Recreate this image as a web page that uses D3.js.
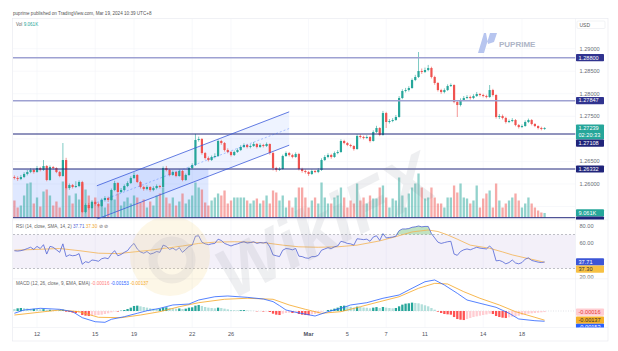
<!DOCTYPE html>
<html lang="en">
<head>
<meta charset="UTF-8">
<title>GBPUSD 4H</title>
<script src="https://d3js.org/d3.v7.min.js"></script>
<style>
  body { margin: 0; background: #fff; }
  svg { display: block; font-family: "Liberation Sans", Arial, sans-serif; }
</style>
</head>
<body>
<svg width="618" height="351"></svg>
<script>
// ---- data (4H candles, Feb 9 -> Mar 19) ----
var opens = [1.26154,1.26132,1.26110,1.26154,1.26221,1.26265,1.26310,1.26265,1.26354,1.26310,
 1.26398,1.26088,1.26376,1.26354,1.26265,1.26177,1.26531,1.25910,1.25977,1.25933,
 1.25955,1.26044,1.25378,1.25534,1.25467,1.25600,1.25556,1.25511,1.25644,1.25689,
 1.25644,1.25866,1.26021,1.25822,1.25866,1.25955,1.26021,1.26132,1.26199,1.26044,
 1.25933,1.25888,1.25933,1.25866,1.25910,1.25955,1.25933,1.26354,1.26310,1.26199,
 1.26265,1.26177,1.26288,1.26088,1.26199,1.26354,1.26420,1.26975,1.26997,1.26686,
 1.26576,1.26531,1.26598,1.26620,1.26953,1.26908,1.26753,1.26709,1.26642,1.26709,
 1.26753,1.26820,1.26864,1.26820,1.26842,1.26886,1.26820,1.26864,1.26842,1.26886,
 1.26686,1.26354,1.26310,1.26332,1.26620,1.26686,1.26642,1.26598,1.26664,1.26332,
 1.26288,1.26265,1.26221,1.26288,1.26265,1.26310,1.26531,1.26598,1.26642,1.26598,
 1.26686,1.26709,1.26953,1.26908,1.26864,1.26842,1.26775,1.27064,1.27042,1.27019,
 1.27042,1.26953,1.27152,1.27241,1.27086,1.27573,1.27374,1.27396,1.27418,1.27485,
 1.27906,1.28061,1.28083,1.28128,1.28305,1.28372,1.28505,1.28483,1.28527,1.28571,
 1.28372,1.28239,1.28083,1.28039,1.28083,1.28172,1.28194,1.27817,1.27751,1.27862,
 1.27906,1.27928,1.27906,1.27950,1.27995,1.27973,1.27950,1.27928,1.28083,1.27973,
 1.27485,1.27507,1.27463,1.27374,1.27396,1.27418,1.27307,1.27263,1.27285,1.27374,
 1.27418,1.27330,1.27285,1.27241,1.27219];
var closes = [1.26132,1.26110,1.26154,1.26221,1.26265,1.26310,1.26265,1.26354,1.26310,1.26398,
 1.26088,1.26376,1.26354,1.26265,1.26177,1.26531,1.25910,1.25977,1.25933,1.25955,
 1.26044,1.25378,1.25534,1.25467,1.25600,1.25556,1.25511,1.25644,1.25689,1.25644,
 1.25866,1.26021,1.25822,1.25866,1.25955,1.26021,1.26132,1.26199,1.26044,1.25933,
 1.25888,1.25933,1.25866,1.25910,1.25955,1.25933,1.26354,1.26310,1.26199,1.26265,
 1.26177,1.26288,1.26088,1.26199,1.26354,1.26420,1.26975,1.26997,1.26686,1.26576,
 1.26531,1.26598,1.26620,1.26953,1.26908,1.26753,1.26709,1.26642,1.26709,1.26753,
 1.26820,1.26864,1.26820,1.26842,1.26886,1.26820,1.26864,1.26842,1.26886,1.26686,
 1.26354,1.26310,1.26332,1.26620,1.26686,1.26642,1.26598,1.26664,1.26332,1.26288,
 1.26265,1.26221,1.26288,1.26265,1.26310,1.26531,1.26598,1.26642,1.26598,1.26686,
 1.26709,1.26953,1.26908,1.26864,1.26842,1.26775,1.27064,1.27042,1.27019,1.27042,
 1.26953,1.27152,1.27241,1.27086,1.27573,1.27374,1.27396,1.27418,1.27485,1.27906,
 1.28061,1.28083,1.28128,1.28305,1.28372,1.28505,1.28483,1.28527,1.28571,1.28372,
 1.28239,1.28083,1.28039,1.28083,1.28172,1.28194,1.27817,1.27751,1.27862,1.27906,
 1.27928,1.27906,1.27950,1.27995,1.27973,1.27950,1.27928,1.28083,1.27973,1.27485,
 1.27507,1.27463,1.27374,1.27396,1.27418,1.27307,1.27263,1.27285,1.27374,1.27418,
 1.27330,1.27285,1.27241,1.27219,1.27239];
var highs = [1.26190,1.26170,1.26200,1.26260,1.26310,1.26350,1.26340,1.26400,1.26380,1.26531,
 1.26420,1.26410,1.26400,1.26370,1.26290,1.26908,1.26580,1.26010,1.26000,1.26060,
 1.26080,1.26070,1.25570,1.25580,1.25640,1.25630,1.25590,1.25680,1.25730,1.25720,
 1.25900,1.26070,1.26040,1.25910,1.25990,1.26060,1.26170,1.26260,1.26220,1.26070,
 1.25960,1.25970,1.25950,1.25950,1.25990,1.25980,1.26390,1.26400,1.26330,1.26300,
 1.26290,1.26320,1.26310,1.26230,1.26380,1.26460,1.27110,1.27050,1.27020,1.26710,
 1.26610,1.26630,1.26680,1.26990,1.26980,1.26930,1.26790,1.26730,1.26740,1.26790,
 1.26860,1.26900,1.26890,1.26880,1.26930,1.26910,1.26900,1.26890,1.26920,1.26900,
 1.26710,1.26380,1.26370,1.26650,1.26720,1.26710,1.26670,1.26700,1.26690,1.26360,
 1.26320,1.26290,1.26320,1.26310,1.26350,1.26570,1.26640,1.26680,1.26670,1.26720,
 1.26750,1.26990,1.26980,1.26930,1.26890,1.26860,1.27100,1.27100,1.27070,1.27080,
 1.27060,1.27190,1.27290,1.27260,1.27620,1.27600,1.27440,1.27460,1.27530,1.27950,
 1.28100,1.28130,1.28170,1.28340,1.28420,1.28926,1.28560,1.28580,1.28640,1.28600,
 1.28400,1.28260,1.28110,1.28120,1.28210,1.28230,1.28210,1.27840,1.27900,1.27950,
 1.27970,1.27960,1.27990,1.28040,1.28020,1.28000,1.27980,1.28194,1.28110,1.27990,
 1.27550,1.27540,1.27490,1.27430,1.27460,1.27440,1.27330,1.27320,1.27410,1.27450,
 1.27440,1.27350,1.27300,1.27270,1.27260];
var lows = [1.26100,1.26070,1.26085,1.26130,1.26190,1.26240,1.26230,1.26250,1.26280,1.26290,
 1.26060,1.26070,1.26320,1.26240,1.26150,1.26160,1.25880,1.25870,1.25900,1.25910,
 1.25930,1.25360,1.25350,1.25430,1.25450,1.25520,1.25480,1.25490,1.25610,1.25600,
 1.25630,1.25840,1.25790,1.25800,1.25840,1.25930,1.26000,1.26110,1.26020,1.25900,
 1.25850,1.25860,1.25830,1.25840,1.25880,1.25900,1.25920,1.26280,1.26170,1.26180,
 1.26150,1.26160,1.26060,1.26070,1.26180,1.26330,1.26400,1.26940,1.26650,1.26540,
 1.26500,1.26510,1.26570,1.26600,1.26870,1.26720,1.26680,1.26610,1.26620,1.26690,
 1.26730,1.26800,1.26790,1.26790,1.26820,1.26790,1.26800,1.26810,1.26820,1.26650,
 1.26300,1.26270,1.26290,1.26320,1.26600,1.26610,1.26570,1.26580,1.26300,1.26250,
 1.26230,1.26180,1.26200,1.26240,1.26240,1.26290,1.26510,1.26570,1.26560,1.26580,
 1.26660,1.26690,1.26880,1.26840,1.26810,1.26740,1.26760,1.27010,1.26990,1.27000,
 1.26920,1.26940,1.27130,1.27060,1.27070,1.27241,1.27340,1.27370,1.27400,1.27470,
 1.27880,1.28030,1.28050,1.28110,1.28280,1.28350,1.28440,1.28460,1.28500,1.28340,
 1.28200,1.28050,1.28000,1.28010,1.28060,1.28150,1.27790,1.27485,1.27720,1.27840,
 1.27880,1.27870,1.27880,1.27930,1.27940,1.27920,1.27900,1.27910,1.27940,1.27450,
 1.27440,1.27430,1.27340,1.27350,1.27370,1.27280,1.27230,1.27240,1.27270,1.27350,
 1.27300,1.27260,1.27210,1.27190,1.27200];
var volumes = [34000,20000,24000,44000,68000,70000,28000,40000,22000,52000,
 56000,44000,24000,32000,20000,72000,60000,44000,28000,48000,
 36000,68000,56000,44000,32000,40000,24000,36000,20000,28000,
 44000,36000,48000,24000,32000,40000,28000,44000,40000,30000,
 36000,20000,32000,24000,44000,48000,60000,40000,28000,40000,
 24000,32000,48000,28000,36000,44000,70000,60000,56000,30000,
 24000,34000,40000,48000,44000,54000,28000,34000,40000,40000,
 40000,40000,34000,28000,34000,38000,28000,34000,44000,28000,
 54000,50000,34000,44000,20000,34000,20000,40000,60000,60000,
 40000,20000,34000,40000,28000,70000,40000,28000,28000,40000,
 44000,60000,40000,20000,34000,28000,68000,34000,40000,28000,
 44000,38000,38000,60000,64000,40000,20000,38000,34000,80000,
 44000,20000,48000,60000,68000,88000,60000,38000,40000,60000,
 40000,28000,28000,20000,40000,40000,64000,50000,68000,40000,
 38000,28000,34000,64000,20000,38000,48000,54000,20000,68000,
 34000,20000,28000,34000,40000,48000,34000,20000,28000,40000,
 28000,20000,14000,10000,9061];

var rsi = [50.9,50.5,51,52,53.5,55,52.5,56,53.5,58,
 47,56,55,52,49,59,44,46,45,45.5,
 47.5,35,38,37,40,39.5,38.5,41.5,42.5,41.5,
 47,51,45,46.5,49,51,56,59.5,53,49.5,
 48,50,47,48,50,49,57.5,56,52.5,54,
 51.5,54.5,49,52.5,56,57.5,68,68.5,61,59,
 58,59,59.5,64.5,63,59.5,58,56.5,58,59,
 60.5,61.5,60,60.5,61.5,59.5,60.5,60,61,55.5,
 46,45,44,51.5,53.5,53,52,53.5,44.5,44,
 42.5,42,44,44,45.5,51.5,53,54.5,53.5,55.5,
 56.5,62,61,59.5,59,57.5,65,64.5,64,64.5,
 62,67,68.5,63,71,66,66.5,67,68,74.5,
 76.5,76.5,77,78.5,79,80,79,79.5,79.5,71,
 66,61,59.5,60.5,61.5,62,47,45.5,50,52,
 53,52,53.5,55,54,53.5,53,56.5,52.5,39,
 39.5,38,35.5,37,40,36.5,35.5,37,41,42.5,
 39.5,38.5,37.5,37,37.71];
var rsiMaIdx = [0,7,14,20,26,32,37,42,47,52,57,62,68,73,78,83,88,94,100,106,113,118,123,128,131,134,137,141,147,151,154,158,161,164];
var rsiMaVal = [51.5,52.5,53.5,51,48,47.5,49.5,51.5,54,56.5,59.5,61,61.5,61,60,57.5,55.5,55,55.5,57.5,62.5,67.5,73,75.3,73.5,69.5,64.5,57.5,53.8,49.5,46,42.5,40,37.3];

// MACD(12,26,9)
var macdIdx = [0,3,8,14,18,21,25,28,30,34,38,41,45,49,54,57,62,66,72,77,80,82,84,87,93,97,101,104,109,114,119,123,127,130,133,137,140,144,149,153,156,161,164];
var macdVal = [-0.00034,0.00015,0.00040,0.00025,-0.00010,-0.00100,-0.00160,-0.00169,-0.00124,-0.00085,-0.00034,0.00004,0.00040,0.00090,0.00104,0.00164,0.00213,0.00224,0.00204,0.00179,0.00140,0.00080,0.00015,-0.00019,-0.00075,-0.00010,0.00040,0.00090,0.00124,0.00190,0.00239,0.00339,0.00437,0.00463,0.00388,0.00264,0.00164,0.00115,0.00055,-0.00034,-0.00119,-0.00145,-0.00153];
var signalIdx = [0,14,20,26,33,39,45,51,57,65,72,80,85,90,95,101,107,113,119,125,130,134,139,144,150,155,161,164];
var signalVal = [-0.00060,0.00015,-0.00010,-0.00094,-0.00100,-0.00060,-0.00010,0.00064,0.00124,0.00175,0.00190,0.00175,0.00090,0.00025,-0.00034,-0.00010,0.00064,0.00139,0.00213,0.00339,0.00413,0.00403,0.00288,0.00190,0.00090,-0.00010,-0.00094,-0.00137];
var hist = [0.00030,0.00040,0.00045,0.00042,0.00038,0.00030,0.00032,0.00030,0.00025,0.00028,
 0.00015,0.00018,0.00012,0.00008,0.00010,0.00020,-0.00010,-0.00015,-0.00025,-0.00030,
 -0.00028,-0.00060,-0.00070,-0.00075,-0.00068,-0.00065,-0.00060,-0.00055,-0.00045,-0.00035,
 -0.00020,-0.00005,-0.00008,0.00005,0.00015,0.00030,0.00050,0.00075,0.00080,0.00070,
 0.00060,0.00050,0.00040,0.00035,0.00030,0.00035,0.00050,0.00055,0.00045,0.00040,
 0.00035,0.00038,0.00030,0.00035,0.00050,0.00055,0.00080,0.00090,0.00075,0.00060,
 0.00050,0.00045,0.00040,0.00050,0.00045,0.00035,0.00025,0.00015,0.00012,0.00010,
 0.00012,0.00014,0.00008,0.00005,0.00003,-0.00005,-0.00004,-0.00008,-0.00006,-0.00015,
 -0.00040,-0.00055,-0.00060,-0.00040,-0.00030,-0.00025,-0.00030,-0.00025,-0.00045,-0.00055,
 -0.00060,-0.00062,-0.00050,-0.00045,-0.00035,-0.00015,0.00000,0.00015,0.00020,0.00035,
 0.00050,0.00075,0.00080,0.00070,0.00062,0.00050,0.00065,0.00060,0.00052,0.00048,
 0.00040,0.00050,0.00058,0.00045,0.00060,0.00050,0.00045,0.00040,0.00045,0.00070,
 0.00095,0.00110,0.00115,0.00125,0.00120,0.00115,0.00100,0.00085,0.00070,0.00045,
 0.00020,-0.00010,-0.00030,-0.00045,-0.00050,-0.00055,-0.00090,-0.00120,-0.00130,-0.00135,
 -0.00120,-0.00105,-0.00090,-0.00080,-0.00070,-0.00060,-0.00052,-0.00040,-0.00045,-0.00075,
 -0.00090,-0.00100,-0.00105,-0.00095,-0.00085,-0.00080,-0.00070,-0.00060,-0.00048,-0.00040,
 -0.00035,-0.00030,-0.00025,-0.00020,-0.00016];

// time axis (candle index of each day label)
var timeIdx = [7,25,37,55,67,91,103,115,127,145,157];
var timeLbl = ["12","15","19","22","26","Mar","5","7","11","14","18"];
var priceTicks = [1.290,1.285,1.280,1.275,1.270,1.265,1.260,1.255];
var rsiTicks = [80,60,40,20];

// drawings: horizontal levels, rectangle zone, parallel channel
var levelPrices = [1.28800,1.27847,1.27108,1.26332,1.25252];
var levelLabels = ["1.28800","1.27847","1.27108","1.26332",""];
var rectIdx = [-1,60];
var rectPrice = [1.26332,1.25252];
var chanIdx = [25.5,85];
var chanUpper = [1.25960,1.27600];
var chanLower = [1.25220,1.26860];

// ---- layout ----
var svg = d3.select("svg");
var L = 13, R = 575.5, AR = 608;
var mainTop = 18.5, mainBot = 219.5, rsiTop = 220, rsiBot = 278.5, macdTop = 279, macdBot = 327.5, frameBot = 341;
var UP = "#26a69a", DN = "#ef5350";

var x = d3.scaleLinear().domain([0, 164]).range([14.4, 544.6]);
var y = d3.scaleLinear().domain([1.25, 1.29]).range([229.08, 48.68]);
var yVol = d3.scaleLinear().domain([0, 100000]).range([217.5, 167.5]);
var yRsi = d3.scaleLinear().domain([20, 80]).range([277, 226]);
var yMacd = d3.scaleLinear().domain([-0.002, 0.005]).range([324.4, 277.5]);

var defs = svg.append("defs");
function clip(id, x0, y0, x1, y1) {
    defs.append("clipPath").attr("id", id).append("rect")
        .attr("x", x0).attr("y", y0).attr("width", x1 - x0).attr("height", y1 - y0);
}
clip("cMain", L, mainTop, R, mainBot);
clip("cRsi", L, rsiTop, R, rsiBot);
clip("cMacd", L, macdTop, R, macdBot);
clip("aMain", R, mainTop, AR, mainBot);
clip("aRsi", R, rsiTop, AR, rsiBot);
clip("aMacd", R, macdTop, AR, macdBot);

// header
svg.append("text").attr("x", 13).attr("y", 15).attr("font-size", 4.6).attr("fill", "#555")
    .text("puprime published on TradingView.com, Mar 19, 2024 10:39 UTC+8");

// frame + grid
svg.append("rect").attr("x", 12.5).attr("y", mainTop).attr("width", AR - 12.5).attr("height", frameBot - mainTop)
    .attr("fill", "#fff").attr("stroke", "#e6e8ee").attr("stroke-width", 0.6);
var grid = svg.append("g").attr("stroke", "#f1f3f8").attr("stroke-width", 0.6);
grid.selectAll("line.v").data(timeIdx).enter().append("line")
    .attr("x1", d => x(d)).attr("x2", d => x(d)).attr("y1", mainTop).attr("y2", macdBot);
grid.selectAll("line.h").data(priceTicks).enter().append("line")
    .attr("x1", L).attr("x2", R).attr("y1", d => y(d)).attr("y2", d => y(d));
[rsiTop - 0.2, macdTop - 0.2, macdBot].forEach(function (yy) {
    svg.append("line").attr("x1", L).attr("x2", AR).attr("y1", yy).attr("y2", yy)
        .attr("stroke", "#eceef3").attr("stroke-width", 0.6);
});
svg.append("line").attr("x1", R).attr("x2", R).attr("y1", mainTop).attr("y2", macdBot)
    .attr("stroke", "#eceef3").attr("stroke-width", 0.6);

// ---- main pane ----
var main = svg.append("g").attr("clip-path", "url(#cMain)");

main.append("rect")
    .attr("x", x(rectIdx[0])).attr("y", y(rectPrice[0]))
    .attr("width", x(rectIdx[1]) - x(rectIdx[0])).attr("height", y(rectPrice[1]) - y(rectPrice[0]))
    .attr("fill", "rgba(41,98,255,0.15)");

var chanPts = [[x(chanIdx[0]), y(chanUpper[0])], [x(chanIdx[1]), y(chanUpper[1])],
               [x(chanIdx[1]), y(chanLower[1])], [x(chanIdx[0]), y(chanLower[0])]];
main.append("path").attr("d", d3.line()(chanPts) + "Z").attr("fill", "rgba(41,98,255,0.08)");

var idx = d3.range(closes.length);
main.selectAll("rect.vol").data(idx).enter().append("rect")
    .attr("x", i => x(i) - 1.15).attr("width", 2.3)
    .attr("y", i => yVol(volumes[i])).attr("height", i => yVol(0) - yVol(volumes[i]))
    .attr("fill", i => closes[i] >= opens[i] ? "rgba(38,166,154,0.5)" : "rgba(239,83,80,0.5)");

var candles = main.selectAll("g.c").data(idx).enter().append("g");
candles.append("line")
    .attr("x1", i => x(i)).attr("x2", i => x(i))
    .attr("y1", i => y(highs[i])).attr("y2", i => y(lows[i]))
    .attr("stroke", i => closes[i] >= opens[i] ? UP : DN).attr("stroke-width", 0.6);
candles.append("rect")
    .attr("x", i => x(i) - 1.1).attr("width", 2.2)
    .attr("y", i => y(Math.max(opens[i], closes[i])))
    .attr("height", i => Math.max(0.7, Math.abs(y(opens[i]) - y(closes[i]))))
    .attr("fill", i => closes[i] >= opens[i] ? UP : DN);

main.selectAll("line.lvl").data(levelPrices).enter().append("line")
    .attr("x1", L).attr("x2", R).attr("y1", d => y(d)).attr("y2", d => y(d))
    .attr("stroke", (d, k) => k < 2 ? "#9ea1d2" : "#23287c")
    .attr("stroke-width", (d, k) => k < 2 ? 1.4 : 1);

var chanMid = [(chanUpper[0] + chanLower[0]) / 2, (chanUpper[1] + chanLower[1]) / 2];
[[chanUpper, null], [chanLower, null], [chanMid, "2,2"]].forEach(function (c) {
    main.append("line")
        .attr("x1", x(chanIdx[0])).attr("x2", x(chanIdx[1]))
        .attr("y1", y(c[0][0])).attr("y2", y(c[0][1]))
        .attr("stroke", c[1] ? "rgba(41,98,255,0.45)" : "#3b5bdb")
        .attr("stroke-width", 0.8).attr("stroke-dasharray", c[1]);
});

var vl = svg.append("text").attr("x", 16).attr("y", 25.5).attr("font-size", 4.6).attr("fill", "#666");
vl.append("tspan").text("Vol ");
vl.append("tspan").attr("fill", UP).text((volumes[164] / 1000).toFixed(3) + "K");

// ---- RSI pane ----
var rp = svg.append("g").attr("clip-path", "url(#cRsi)");
rp.append("rect").attr("x", L).attr("width", R - L)
    .attr("y", yRsi(70)).attr("height", yRsi(30) - yRsi(70)).attr("fill", "rgba(126,87,194,0.09)");
[70, 30].forEach(function (v) {
    rp.append("line").attr("x1", L).attr("x2", R).attr("y1", yRsi(v)).attr("y2", yRsi(v))
        .attr("stroke", "#9598a1").attr("stroke-width", 0.6).attr("stroke-dasharray", "2,2");
});
rp.append("path").datum(idx)
    .attr("d", d3.area().x(i => x(i)).y0(yRsi(70)).y1(i => yRsi(Math.max(70, rsi[i]))))
    .attr("fill", "rgba(76,175,80,0.35)");
rp.append("path").datum(rsiMaIdx.map((d, k) => [d, rsiMaVal[k]]))
    .attr("d", d3.line().x(d => x(d[0])).y(d => yRsi(d[1])))
    .attr("fill", "none").attr("stroke", "#f4b350").attr("stroke-width", 0.8);
rp.append("path").datum(idx)
    .attr("d", d3.line().x(i => x(i)).y(i => yRsi(rsi[i])))
    .attr("fill", "none").attr("stroke", "#5063d6").attr("stroke-width", 0.8);

var rl = svg.append("text").attr("x", 16).attr("y", 227.6).attr("font-size", 4.6).attr("fill", "#666");
rl.append("tspan").text("RSI (14, close, SMA, 14, 2) ");
rl.append("tspan").attr("fill", "#5063d6").text(rsi[164].toFixed(2) + " ");
rl.append("tspan").attr("fill", "#f0a830").text(rsiMaVal[rsiMaVal.length - 1].toFixed(2) + " ");
rl.append("tspan").text("\u2298 \u2298");

// ---- MACD pane ----
var mp = svg.append("g").attr("clip-path", "url(#cMacd)");
mp.append("line").attr("x1", L).attr("x2", R).attr("y1", yMacd(0)).attr("y2", yMacd(0))
    .attr("stroke", "#c3c6ce").attr("stroke-width", 0.5).attr("stroke-dasharray", "1,1.5");
mp.selectAll("rect.h").data(idx).enter().append("rect")
    .attr("x", i => x(i) - 1.15).attr("width", 2.3)
    .attr("y", i => Math.min(yMacd(0), yMacd(hist[i])))
    .attr("height", i => Math.abs(yMacd(hist[i]) - yMacd(0)))
    .attr("fill", function (i) {
        var prev = i > 0 ? hist[i - 1] : hist[i];
        if (hist[i] >= 0) return hist[i] > prev ? "#26a69a" : "#b2dfdb";
        return hist[i] < prev ? "#ff5252" : "#ffcdd2";
    });
mp.append("path").datum(signalIdx.map((d, k) => [d, signalVal[k]]))
    .attr("d", d3.line().x(d => x(d[0])).y(d => yMacd(d[1])))
    .attr("fill", "none").attr("stroke", "#f5a623").attr("stroke-width", 0.8);
mp.append("path").datum(macdIdx.map((d, k) => [d, macdVal[k]]))
    .attr("d", d3.line().x(d => x(d[0])).y(d => yMacd(d[1])))
    .attr("fill", "none").attr("stroke", "#2962ff").attr("stroke-width", 0.8);

var ml = svg.append("text").attr("x", 16).attr("y", 285).attr("font-size", 4.6).attr("fill", "#666");
ml.append("tspan").text("MACD (12, 26, close, 9, EMA, EMA) ");
ml.append("tspan").attr("fill", "#ff7b7b").text(hist[164].toFixed(5) + " ");
ml.append("tspan").attr("fill", "#2962ff").text(macdVal[macdVal.length - 1].toFixed(5) + " ");
ml.append("tspan").attr("fill", "#f5a623").text(signalVal[signalVal.length - 1].toFixed(5));

// ---- watermarks ----
var wm = svg.append("g").attr("pointer-events", "none");
wm.append("circle").attr("cx", 170).attr("cy", 256).attr("r", 40).attr("fill", "#f6d889").attr("opacity", 0.2);
wm.append("circle").attr("cx", 172).attr("cy", 260).attr("r", 19).attr("fill", "none")
    .attr("stroke", "#7d8290").attr("stroke-width", 9).attr("opacity", 0.1);
wm.append("text").attr("transform", "translate(232,300) rotate(-27)")
    .attr("font-size", 70).attr("font-weight", "bold").attr("font-style", "italic")
    .attr("fill", "#7d8290").attr("opacity", 0.12).text("WikiFX");
wm.append("path").attr("d", "M478,53 L484,53 L490,33 L484,33 Z M486,33 L497,33 L494,42 L488,44 Z")
    .attr("fill", "#b7c5ef");
wm.append("text").attr("x", 499).attr("y", 46.5).attr("font-size", 8).attr("font-weight", "bold")
    .attr("fill", "#aeb5c6").text("PUPRIME");

// ---- axis label boxes ----
function placeBoxes(list) {
    list.sort((a, b) => a.c - b.c);
    var prevBot = -1e9;
    list.forEach(function (d) {
        d.top = Math.max(d.c - 3.6, prevBot);
        prevBot = d.top + d.h;
    });
    return list;
}
function drawBoxes(list, clipId) {
    var g = svg.append("g").attr("clip-path", "url(#" + clipId + ")");
    list.forEach(function (d) {
        g.append("rect").attr("x", R + 0.5).attr("y", d.top).attr("width", 28).attr("height", d.h)
            .attr("fill", d.bg).attr("rx", 0.8);
        d.lines.forEach(function (t, k) {
            g.append("text").attr("x", R + 3).attr("y", d.top + 5.4 + k * 7.4)
                .attr("font-size", 5.6).attr("fill", d.fg).text(t);
        });
    });
}
function axisTicks(vals, scale, fmt, boxes, clipId) {
    var g = svg.append("g").attr("clip-path", "url(#" + clipId + ")");
    vals.forEach(function (v) {
        var yy = scale(v);
        var hit = boxes.some(b => yy + 3 > b.top && yy - 3 < b.top + b.h);
        if (!hit) g.append("text").attr("x", R + 4).attr("y", yy + 2).attr("font-size", 5.6)
            .attr("fill", "#6a6d78").text(fmt(v));
    });
}

var mainBoxes = placeBoxes(levelPrices.map(function (p, k) {
    return { c: y(p), h: 7.2, bg: k < 2 ? "#30338f" : "#20247a", fg: "#fff", lines: [levelLabels[k]] };
}).concat([
    { c: y(closes[164]), h: 15, bg: UP, fg: "#fff", lines: [closes[164].toFixed(5), "02:20:33"] },
    { c: yVol(volumes[164]), h: 7.2, bg: UP, fg: "#fff", lines: [(volumes[164] / 1000).toFixed(3) + "K"] }
]));
axisTicks(priceTicks, y, d => d.toFixed(5), mainBoxes, "aMain");
drawBoxes(mainBoxes, "aMain");

var rsiBoxes = placeBoxes([
    { c: yRsi(rsi[164]), h: 7.2, bg: "#3d56d6", fg: "#fff", lines: [rsi[164].toFixed(2)] },
    { c: yRsi(rsiMaVal[rsiMaVal.length - 1]), h: 7.2, bg: "#f7c143", fg: "#333", lines: [rsiMaVal[rsiMaVal.length - 1].toFixed(2)] }
]);
axisTicks(rsiTicks, yRsi, d => d.toFixed(2), rsiBoxes, "aRsi");
drawBoxes(rsiBoxes, "aRsi");

var macdBoxes = placeBoxes([
    { c: yMacd(hist[164]), h: 7.2, bg: "#ffcdd2", fg: "#e53935", lines: [hist[164].toFixed(5)] },
    { c: yMacd(signalVal[signalVal.length - 1]), h: 7.2, bg: "#f5b027", fg: "#333", lines: [signalVal[signalVal.length - 1].toFixed(5)] },
    { c: yMacd(macdVal[macdVal.length - 1]), h: 7.2, bg: "#2962ff", fg: "#fff", lines: [macdVal[macdVal.length - 1].toFixed(5)] }
]);
drawBoxes(macdBoxes, "aMacd");

// USD badge
svg.append("rect").attr("x", 577).attr("y", 21).attr("width", 28).attr("height", 7.5)
    .attr("fill", "#fff").attr("stroke", "#e3e5ea").attr("stroke-width", 0.5).attr("rx", 1);
svg.append("text").attr("x", 579.5).attr("y", 26.8).attr("font-size", 5).attr("fill", "#555").text("USD");

// time axis
svg.selectAll("text.t").data(timeIdx).enter().append("text")
    .attr("x", d => x(d)).attr("y", 336).attr("text-anchor", "middle")
    .attr("font-size", 5.6).attr("fill", "#50535e")
    .attr("font-weight", (d, k) => timeLbl[k] === "Mar" ? "bold" : null)
    .text((d, k) => timeLbl[k]);
</script>
</body>
</html>
